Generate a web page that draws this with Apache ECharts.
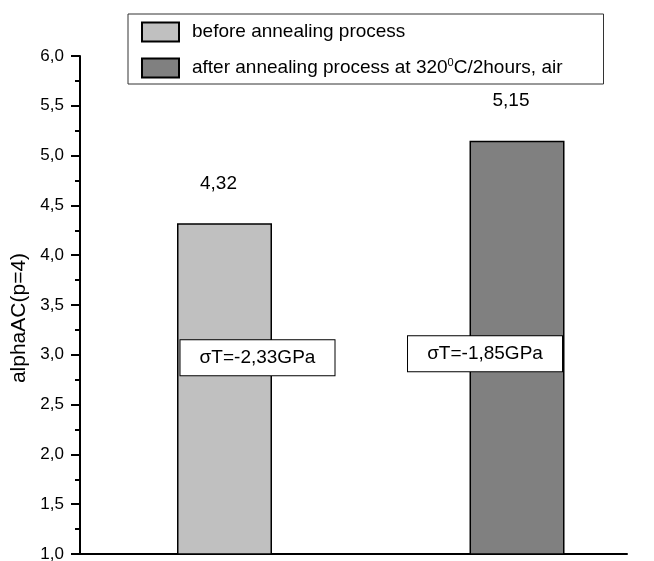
<!DOCTYPE html>
<html>
<head>
<meta charset="utf-8">
<script src="https://cdn.jsdelivr.net/npm/echarts@6/dist/echarts.min.js"></script>
<style>
html,body{margin:0;padding:0;background:#fff;}
#chart{width:654px;height:561px;}
</style>
</head>
<body>
<div id="chart"></div>
<script>
// ---- data ----
var seriesNames = ['before annealing process', 'after annealing process at 320{sup|0}C/2hours, air'];
var legendNames = ['before', 'after'];
var positions = [1, 2];
var alphaValues = [4.32, 5.15];
var stressLabels = ['\u03c3T=-2,33GPa', '\u03c3T=-1,85GPa'];
var yTicks = [1.0, 1.5, 2.0, 2.5, 3.0, 3.5, 4.0, 4.5, 5.0, 5.5, 6.0];
var barColors = ['#c0c0c0', '#808080'];

var FONT = '"Liberation Sans", Arial, sans-serif';
function comma(v, d) { return Number(v).toFixed(d).replace('.', ','); }

var annY = [2.97, 3.01];
var annOffset = [[33, 0], [-32, 0]];

var series = legendNames.map(function (nm, i) {
  return {
    name: nm,
    type: 'bar',
    barWidth: 95,
    barGap: '-100%',
    data: [[positions[i], alphaValues[i]]],
    itemStyle: { color: barColors[i], borderColor: '#000', borderWidth: 1.5 },
    label: {
      show: true, position: 'top', distance: 30, offset: [-6, 0],
      fontFamily: FONT, fontSize: 19, color: '#000',
      formatter: function (p) { return comma(p.value[1], 2); }
    },
    markPoint: {
      symbol: 'rect', symbolSize: 0, silent: true,
      data: [{ coord: [positions[i], annY[i]] }],
      label: {
        show: true, position: 'inside', offset: annOffset[i],
        formatter: stressLabels[i],
        fontFamily: FONT, fontSize: 19, color: '#000',
        backgroundColor: '#fff', borderColor: '#000', borderWidth: 1,
        width: 154, height: 35, lineHeight: 35, align: 'center', verticalAlign: 'middle', padding: 0
      }
    },
    animation: false
  };
});

var chart = echarts.init(document.getElementById('chart'), null, { renderer: 'canvas' });
chart.setOption({
  animation: false,
  backgroundColor: '#fff',
  grid: { left: 80, right: 27, top: 56, bottom: 7, containLabel: false, outerBoundsMode: 'none' },
  legend: {
    orient: 'vertical',
    left: 128, top: 14,
    padding: [7, 41, 5, 13],
    itemGap: 14,
    itemWidth: 37, itemHeight: 19,
    borderColor: '#333', borderWidth: 1,
    backgroundColor: '#fff',
    icon: 'rect',
    data: legendNames,
    formatter: function (n) { return seriesNames[legendNames.indexOf(n)]; },
    textStyle: {
      fontFamily: FONT, fontSize: 19, color: '#000', lineHeight: 22, padding: [0, 0, 0, 8],
      rich: { sup: { fontFamily: FONT, fontSize: 11, verticalAlign: 'top', lineHeight: 12, padding: [0, 0, 8, 0] } }
    }
  },
  xAxis: {
    type: 'value', min: 0.506, max: 2.376,
    axisLine: { show: true, onZero: false, lineStyle: { color: '#000', width: 2 } },
    axisTick: { show: false }, axisLabel: { show: false }, splitLine: { show: false }
  },
  yAxis: {
    type: 'value', min: yTicks[0], max: yTicks[yTicks.length - 1], interval: 0.5,
    name: 'alphaAC(p=4)', nameLocation: 'middle', nameGap: 46, nameRotate: 90,
    nameTextStyle: { fontFamily: FONT, fontSize: 21, color: '#000', padding: [0, 26, 0, 0] },
    axisLine: { show: true, onZero: false, lineStyle: { color: '#000', width: 2 } },
    axisTick: { show: true, inside: false, length: 9, lineStyle: { color: '#000', width: 2 } },
    minorTick: { show: true, splitNumber: 2, length: 5, lineStyle: { color: '#000', width: 2 } },
    axisLabel: { margin: 16, fontFamily: FONT, fontSize: 17, color: '#000',
      formatter: function (v) { return comma(v, 1); } },
    splitLine: { show: false }
  },
  series: series
});
</script>
</body>
</html>
